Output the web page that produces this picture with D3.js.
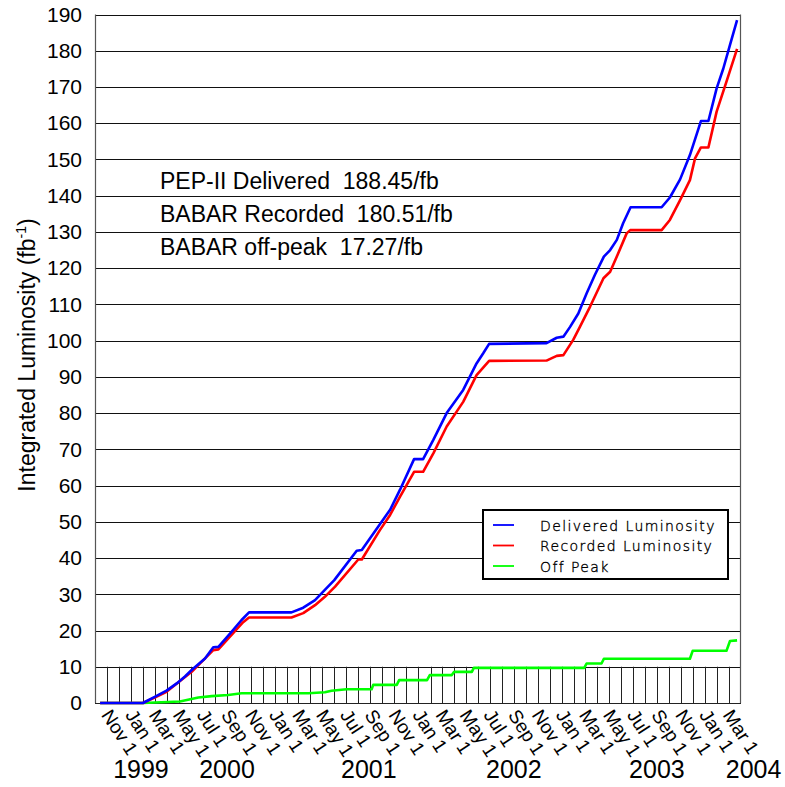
<!DOCTYPE html>
<html><head><meta charset="utf-8">
<script src="https://cdn.jsdelivr.net/npm/d3@7/dist/d3.min.js"></script>
<style>
html,body{margin:0;padding:0;background:#fff;}
svg{display:block;}
</style></head>
<body>
<svg id="chart" width="785" height="787"></svg>
<script>
// ---------- data ----------
const seriesNames = ["Delivered Luminosity", "Recorded Luminosity", "Off Peak"];
const deliveredDates = ["1999-10-14","2000-01-31","2000-03-01","2000-03-31","2000-04-26","2000-05-17","2000-06-03","2000-07-07","2000-07-28","2000-08-10","2000-09-13","2000-10-08","2000-10-27","2001-02-12","2001-03-14","2001-04-13","2001-05-08","2001-06-01","2001-07-28","2001-08-10","2001-09-21","2001-10-21","2001-11-15","2001-12-21","2002-01-13","2002-02-08","2002-03-14","2002-04-25","2002-05-29","2002-06-15","2002-06-30","2002-11-23","2002-12-19","2003-01-05","2003-01-22","2003-02-12","2003-03-05","2003-03-26","2003-04-18","2003-05-04","2003-05-21","2003-06-06","2003-06-25","2003-09-12","2003-10-03","2003-10-29","2003-11-23","2003-12-21","2004-01-09","2004-01-30","2004-02-16","2004-03-04","2004-03-22"];
const deliveredValues = [0,0,1.7,3.4,5.4,7.3,9.1,12.3,15.4,15.5,19.7,22.9,25.0,25.0,26.3,28.4,31.2,33.9,42.0,42.2,48.7,53.3,58.8,67.3,67.3,72.6,80.0,86.4,93.7,96.5,99.1,99.3,100.8,101.1,103.8,107.5,113.0,118.1,123.2,125.0,127.8,132.4,136.8,136.8,139.5,144.5,151.2,160.6,160.6,169.6,175.1,181.6,188.45];
const recordedDates = ["1999-10-14","2000-01-31","2000-03-01","2000-03-31","2000-06-03","2000-07-28","2000-08-10","2000-10-12","2000-10-27","2001-02-12","2001-03-14","2001-04-13","2001-05-08","2001-06-03","2001-08-01","2001-08-10","2001-09-25","2001-10-21","2001-11-15","2001-12-21","2002-01-13","2002-02-08","2002-03-14","2002-04-25","2002-05-29","2002-06-30","2002-11-23","2002-12-19","2003-01-05","2003-01-30","2003-02-16","2003-03-14","2003-04-17","2003-05-04","2003-05-21","2003-06-15","2003-06-24","2003-09-12","2003-10-03","2003-10-29","2003-11-23","2003-12-06","2003-12-21","2004-01-09","2004-01-30","2004-02-24","2004-03-22"];
const recordedValues = [0,0,1.5,3.1,8.6,14.6,14.8,22.3,23.6,23.6,24.8,27.0,29.3,32.1,39.6,39.6,47.7,51.9,56.9,63.8,63.8,68.9,76.3,83.1,90.5,94.4,94.5,95.8,96.0,100.2,103.8,109.4,117.2,119.0,123.2,129.6,130.5,130.5,133.3,138.8,144.3,150.3,153.3,153.3,163.2,171.5,180.51];
const offPeakDates = ["1999-10-14","2000-01-31","2000-05-04","2000-06-20","2000-07-24","2000-09-04","2000-10-08","2001-03-27","2001-05-08","2001-05-25","2001-07-02","2001-09-04","2001-09-08","2001-11-07","2001-11-13","2002-01-23","2002-01-30","2002-03-27","2002-04-02","2002-05-17","2002-05-22","2003-02-27","2003-03-05","2003-04-12","2003-04-18","2003-11-23","2003-11-30","2004-02-24","2004-03-04","2004-03-22"];
const offPeakValues = [0,0,0.4,1.5,1.9,2.2,2.7,2.7,2.95,3.4,3.8,3.8,5.0,5.0,6.3,6.3,7.7,7.7,8.6,8.6,9.7,9.7,10.9,10.9,12.2,12.2,14.4,14.4,17.1,17.27];
const yTicks = [0,10,20,30,40,50,60,70,80,90,100,110,120,130,140,150,160,170,180,190];
const monthLabelNames = ["Jan 1","Mar 1","May 1","Jul 1","Sep 1","Nov 1"];
const yearLabels = ["1999","2000","2001","2002","2003","2004"];
const yearLabelDates = ["2000-01-26","2000-09-01","2001-08-28","2002-09-01","2003-08-31","2004-05-03"];
const summaryLines = ["PEP-II Delivered  188.45/fb","BABAR Recorded  180.51/fb","BABAR off-peak  17.27/fb"];
const xDomain = ["1999-10-01","2004-04-01"];
const yMax = 190;

// ---------- layout ----------
const parse = d3.utcParse("%Y-%m-%d");
const L = 95, R = 741, T = 14.5, B = 703;
const svg = d3.select("#chart");
const x = d3.scaleUtc().domain(xDomain.map(parse)).range([L, R]);
const y = d3.scaleLinear().domain([0, yMax]).range([B, T]);
const font = "'Liberation Sans', Arial, Helvetica, sans-serif";

// horizontal grid
svg.append("g").selectAll("line").data(yTicks.filter(v => v > 0)).join("line")
  .attr("x1", L).attr("x2", R)
  .attr("y1", d => Math.round(y(d)) + 0.5).attr("y2", d => Math.round(y(d)) + 0.5)
  .attr("stroke", "#111").attr("stroke-width", 1);

// monthly vertical lines in lowest band
const months = d3.utcMonth.range(parse("1999-11-01"), parse("2004-04-01"));
svg.append("g").selectAll("line").data(months).join("line")
  .attr("x1", d => Math.round(x(d)) + 0.5).attr("x2", d => Math.round(x(d)) + 0.5)
  .attr("y1", y(10)).attr("y2", B)
  .attr("stroke", "#222").attr("stroke-width", 1);

// frame
svg.append("line").attr("x1", L + 0.5).attr("x2", L + 0.5).attr("y1", T).attr("y2", B).attr("stroke", "#555").attr("stroke-width", 1.2);
svg.append("line").attr("x1", R - 0.5).attr("x2", R - 0.5).attr("y1", T).attr("y2", B).attr("stroke", "#555").attr("stroke-width", 1.2);
svg.append("line").attr("x1", L).attr("x2", R).attr("y1", B + 0.5).attr("y2", B + 0.5).attr("stroke", "#222").attr("stroke-width", 1.2);

// y axis labels
const yAxis = d3.axisLeft(y).tickValues(yTicks).tickSize(0).tickPadding(13);
const ya = svg.append("g").attr("transform", `translate(${L},0)`).call(yAxis);
ya.select(".domain").remove();
ya.selectAll("text").attr("font-family", font).attr("font-size", 21).attr("fill", "#000");

// x axis labels (every second month)
const labelMonths = d3.utcMonth.every(2).range(parse("1999-11-01"), parse("2004-03-02"))
  .filter(d => d.getUTCMonth() % 2 === 0);
const xAxis = d3.axisBottom(x).tickValues(labelMonths).tickSize(0)
  .tickFormat(d => monthLabelNames[Math.floor(d.getUTCMonth() / 2)]);
const xa = svg.append("g").attr("transform", `translate(0,${B})`).call(xAxis);
xa.select(".domain").remove();
xa.selectAll("text")
  .attr("font-family", font).attr("font-size", 19).attr("fill", "#000")
  .attr("text-anchor", "start").attr("dy", 0).attr("y", 0)
  .attr("transform", "translate(-7,12) rotate(57)");

// year labels
svg.append("g").selectAll("text").data(yearLabels).join("text")
  .attr("x", (d, i) => x(parse(yearLabelDates[i]))).attr("y", 778)
  .attr("text-anchor", "middle").attr("font-family", font).attr("font-size", 25)
  .text(d => d);

// y title
const yt = svg.append("text").attr("transform", "translate(35,355) rotate(-90)")
  .attr("text-anchor", "middle").attr("font-family", font).attr("font-size", 23);
yt.append("tspan").text("Integrated Luminosity (fb");
yt.append("tspan").attr("font-size", 14).attr("dy", -9).text("-1");
yt.append("tspan").attr("dy", 9).text(")");

// series
const line = d3.line().x(d => x(d[0])).y(d => y(d[1]));
const series = [
  {dates: offPeakDates, values: offPeakValues, color: "#00ff00"},
  {dates: recordedDates, values: recordedValues, color: "#ff0000"},
  {dates: deliveredDates, values: deliveredValues, color: "#0000ff"}
];
series.forEach(s => {
  const pts = s.dates.map((d, i) => [parse(d), s.values[i]]);
  svg.append("path").datum(pts).attr("d", line)
    .attr("fill", "none").attr("stroke", s.color).attr("stroke-width", 2.6)
    .attr("stroke-linejoin", "round");
});

// summary text
svg.append("g").selectAll("text").data(summaryLines).join("text")
  .attr("x", 160).attr("y", (d, i) => 189 + i * 33)
  .attr("font-family", font).attr("font-size", 23).attr("fill", "#000")
  .attr("xml:space", "preserve").style("white-space", "pre")
  .text(d => d);

// legend
const lg = svg.append("g");
lg.append("rect").attr("x", 483).attr("y", 510).attr("width", 245).attr("height", 69)
  .attr("fill", "#fff").attr("stroke", "#000").attr("stroke-width", 2);
const legendColors = ["#0000ff", "#ff0000", "#00ff00"];
seriesNames.forEach((n, i) => {
  const yy = 525 + i * 20.5;
  lg.append("line").attr("x1", 493).attr("x2", 514).attr("y1", yy).attr("y2", yy)
    .attr("stroke", legendColors[i]).attr("stroke-width", 1.8);
  lg.append("text").attr("x", 540).attr("y", yy + 5.5)
    .attr("font-family", "'DejaVu Sans', sans-serif").attr("font-weight", 200)
    .attr("font-size", 14).attr("letter-spacing", 1.4).attr("fill", "#000")
    .attr("stroke", "#000").attr("stroke-width", 0.35).text(n);
});
</script>
</body></html>
